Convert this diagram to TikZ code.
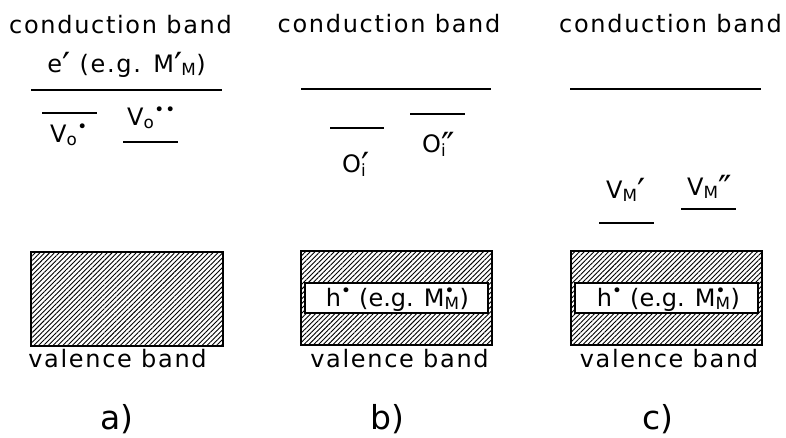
\documentclass[tikz,border=0pt]{standalone}
\usepackage{fontspec}
\usepackage{graphicx}
\setmainfont{DejaVu Sans}[LetterSpace=7]
\newfontfamily\tightfont{DejaVu Sans}
\usetikzlibrary{patterns.meta}
\newcommand\supsubx[2]{\rlap{\textsuperscript{#1}}\textsubscript{#2}}
\newcommand\prx{\raisebox{-0.25em}{\scalebox{1.5}{′}}}
\newcommand\dprx{\raisebox{-0.25em}{\scalebox{1.5}{″}}}
\begin{document}
\begin{tikzpicture}[x=1pt,y=-1pt,
  lbl/.style={font=\fontsize{24}{28}\selectfont, inner sep=0pt},
  tag/.style={font=\tightfont\fontsize{33}{36}\selectfont, inner sep=0pt},
  level/.style={line width=1.6pt},
  band/.style={draw, line width=1.8pt, pattern={Lines[angle=45, distance=3.4pt, line width=0.9pt]}},
  hole/.style={draw, line width=1.3pt, fill=white}]
\useasboundingbox (0,0) rectangle (786,437);

% ---------- panel a ----------
\node[lbl, anchor=base] (cba) at (120.5,33) {conduction band};
\node[lbl, anchor=base] (ea) at (126.5,72) {e\prx\ (e.g. M\prx\kern-1pt\textsubscript{M})};
\draw[level] (31,90) -- (222,90);
\draw[level] (42,113) -- (97,113);
\node[lbl, anchor=base west] (vo1) at (50,142) {V\textsubscript{o}\textsuperscript{•}};
\draw[level] (123,142) -- (178,142);
\node[lbl, anchor=base west] (vo2) at (127,125) {V\textsubscript{o}\textsuperscript{••}};
\draw[band] (31,252) rectangle (223,346);
\node[lbl, anchor=base] (vba) at (117.5,367) {valence band};
\node[tag, anchor=base] (la) at (117,429) {a)};

% ---------- panel b ----------
\node[lbl, anchor=base] (cbb) at (389,32) {conduction band};
\draw[level] (301,89) -- (491,89);
\draw[level] (330,128) -- (384,128);
\node[lbl, anchor=base west] (oi1) at (342,172) {O\rlap{\prx}\textsubscript{i}};
\draw[level] (410,114) -- (465,114);
\node[lbl, anchor=base west] (oi2) at (422,152) {O\rlap{\dprx}\textsubscript{i}};
\draw[band] (301,251) rectangle (492,345);
\draw[hole] (305,283) rectangle (488,313);
\node[lbl, anchor=base] (hb) at (397.5,306) {\tightfont h\textsuperscript{•} (e.g. M\supsubx{•}{M})};
\node[lbl, anchor=base] (vbb) at (399.5,367) {valence band};
\node[tag, anchor=base] (lb) at (387,429) {b)};

% ---------- panel c ----------
\node[lbl, anchor=base] (cbc) at (670.5,32) {conduction band};
\draw[level] (570,89) -- (761,89);
\node[lbl, anchor=base west] (vm1) at (606,198) {V\textsubscript{M}\prx};
\draw[level] (599,223) -- (654,223);
\node[lbl, anchor=base west] (vm2) at (687,195) {V\textsubscript{M}\dprx};
\draw[level] (681,209) -- (736,209);
\draw[band] (571,251) rectangle (762,345);
\draw[hole] (575,283) rectangle (758,313);
\node[lbl, anchor=base] (hc) at (668.5,306) {\tightfont h\textsuperscript{•} (e.g. M\supsubx{•}{M})};
\node[lbl, anchor=base] (vbc) at (669,367) {valence band};
\node[tag, anchor=base] (lc) at (657.5,429) {c)};
\end{tikzpicture}
\end{document}
